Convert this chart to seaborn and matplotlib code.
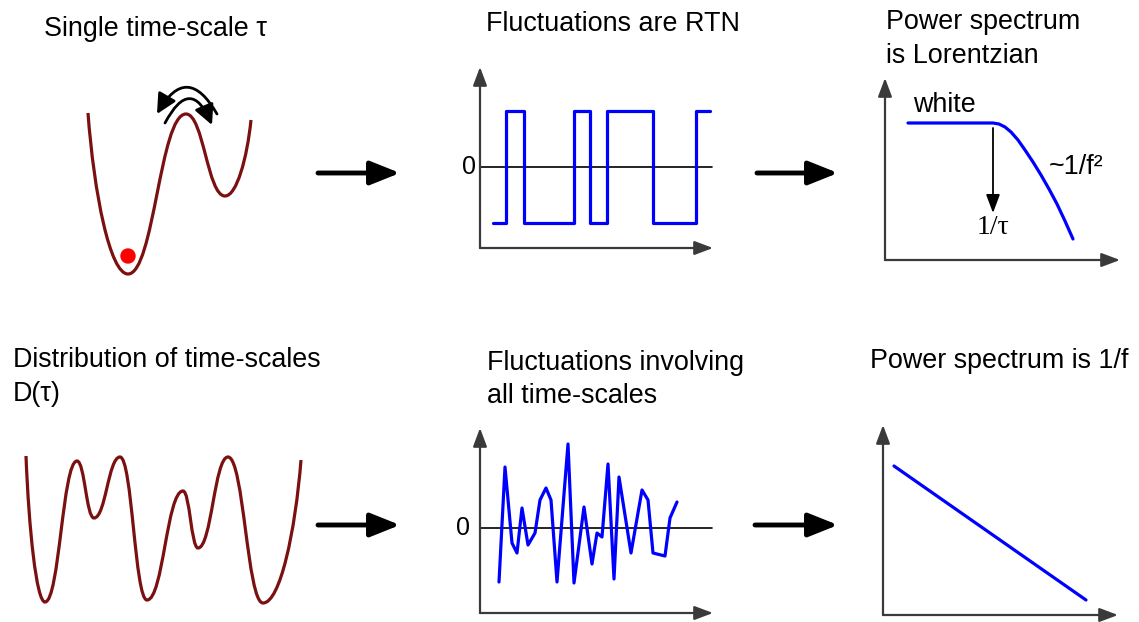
import numpy as np
import matplotlib
matplotlib.use("Agg")
import matplotlib.pyplot as plt
from matplotlib.path import Path
from matplotlib.patches import PathPatch, Circle, FancyArrowPatch
import seaborn as sns

#---------------values (canvas pixels, y grows downward)

# potential landscapes: knots = wall tops and well bottoms
well1_x = [88, 128, 186, 225, 251]
well1_y = [113, 274, 114, 196, 120]
ball_xy = (128, 256)

well2_x = [26, 45, 77, 94, 120, 147, 183, 198, 228, 263, 301]
well2_y = [456, 602, 461, 518, 457, 600, 491, 548, 457, 603, 460]

# random telegraph noise: switching times and level held after each switch
rtn_t = [493, 506, 524, 574, 590, 607, 653, 696, 710]
rtn_v = [223, 111, 223, 111, 223, 111, 223, 111, 111]

# broadband fluctuations
noise_t = [499, 505, 512, 517, 522, 528, 535, 540, 546, 551, 557, 568, 574,
           584, 592, 597, 602, 608, 614, 619, 631, 642, 648, 653, 665, 670, 677]
noise_v = [582, 467, 543, 553, 508, 545, 533, 500, 488, 500, 582, 444, 583,
           507, 564, 533, 537, 464, 579, 477, 553, 490, 500, 553, 556, 518, 502]

# Lorentzian spectrum and 1/f spectrum
lor_f = [908, 993, 999, 1005, 1011, 1018, 1025, 1033, 1041, 1049, 1057, 1065, 1073]
lor_s = [123, 123, 124, 127, 132, 140, 150, 162, 175, 189, 204, 221, 239]
onef_f = [894, 1086]
onef_s = [466, 600]

titles = [
    (44, [36], ["Single time-scale \u03c4"]),
    (486, [31], ["Fluctuations are RTN"]),
    (886, [29, 63], ["Power spectrum", "is Lorentzian"]),
    (13, [367, 401], ["Distribution of time-scales", "D(\u03c4)"]),
    (487, [370, 403], ["Fluctuations involving", "all time-scales"]),
    (870, [368], ["Power spectrum is 1/f"]),
]

#---------------style
sns.set_theme(style="white")
plt.rcParams["font.family"] = ["Liberation Sans", "DejaVu Sans"]
plt.rcParams["text.color"] = "black"
FS = 19.4
MAROON = "#7a1010"
BLUE = "#0000ff"
AXC = "#3a3a3a"

fig = plt.figure(figsize=(11.39, 6.22), dpi=100)
ax = fig.add_axes([0, 0, 1, 1])


def smooth_path(xs, ys):
    # cubic segments with flat tangents at every inner knot
    verts = [(xs[0], ys[0])]
    codes = [Path.MOVETO]
    n = len(xs)
    for i in range(n - 1):
        x0, y0, x1, y1 = xs[i], ys[i], xs[i + 1], ys[i + 1]
        dx, dy = x1 - x0, y1 - y0
        if i == 0:
            c1 = (x0 + 0.15 * dx, y0 + 0.5 * dy)
        else:
            c1 = (x0 + 0.45 * dx, y0)
        if i == n - 2:
            c2 = (x1 - 0.15 * dx, y1 - 0.5 * dy)
        else:
            c2 = (x1 - 0.45 * dx, y1)
        verts += [c1, c2, (x1, y1)]
        codes += [Path.CURVE4] * 3
    return Path(verts, codes)


def axis_arrow(x0, y0, x1, y1):
    ax.annotate("", xy=(x1, y1), xytext=(x0, y0),
                arrowprops=dict(arrowstyle="-|>,head_length=0.8,head_width=0.3",
                                lw=1.6, color=AXC, mutation_scale=14,
                                shrinkA=0, shrinkB=0))


def big_arrow(x0, x1, y):
    ax.annotate("", xy=(x1, y), xytext=(x0, y),
                arrowprops=dict(arrowstyle="-|>,head_length=1.0,head_width=0.4",
                                lw=3.5, color="black", mutation_scale=18,
                                shrinkA=0, shrinkB=0))


#---------------landscapes
ax.add_patch(PathPatch(smooth_path(well1_x, well1_y), fill=False, ec=MAROON, lw=2.3))
ax.add_patch(PathPatch(smooth_path(well2_x, well2_y), fill=False, ec=MAROON, lw=2.3))
ax.add_patch(Circle(ball_xy, 7, color="red", zorder=3))

for a, b, rad in [((217, 114), (157, 114), 0.87), ((165, 123), (212, 125), -1.05)]:
    ax.add_patch(FancyArrowPatch(a, b, connectionstyle=f"arc3,rad={rad}",
                                 arrowstyle="-|>,head_length=0.8,head_width=0.4",
                                 mutation_scale=15, lw=2.0, color="black",
                                 shrinkA=0, shrinkB=0))

#---------------time traces
axis_arrow(480, 248, 480, 67)
axis_arrow(480, 248, 713, 248)
ax.plot([480, 712], [167, 167], color="black", lw=1.2)
sns.lineplot(x=rtn_t, y=rtn_v, ax=ax, sort=False, estimator=None,
             drawstyle="steps-post", color=BLUE, lw=2.3)
ax.text(469, 167, "0", fontsize=18, ha="center", va="center")

axis_arrow(480, 613, 480, 428)
axis_arrow(480, 613, 713, 613)
ax.plot([480, 712], [528, 528], color="black", lw=1.2)
sns.lineplot(x=noise_t, y=noise_v, ax=ax, sort=False, estimator=None,
             color=BLUE, lw=2.3)
ax.text(463, 528, "0", fontsize=18, ha="center", va="center")

#---------------spectra
axis_arrow(885, 260, 885, 78)
axis_arrow(885, 260, 1120, 260)
sns.lineplot(x=lor_f, y=lor_s, ax=ax, sort=False, estimator=None,
             color=BLUE, lw=2.3)
ax.annotate("", xy=(993, 213), xytext=(993, 128),
            arrowprops=dict(arrowstyle="-|>,head_length=0.8,head_width=0.3",
                            lw=1.3, color="black", mutation_scale=14,
                            shrinkA=0, shrinkB=0))
ax.text(913, 112, "white", fontsize=FS, ha="left", va="baseline")
ax.text(1049, 167, "~1/f\u00b2", fontsize=FS, ha="left", va="center")
ax.text(993, 228, "1/\u03c4", fontsize=20, ha="center", va="center",
        family=["Liberation Serif", "DejaVu Serif"])

axis_arrow(883, 615, 883, 425)
axis_arrow(883, 615, 1118, 615)
sns.lineplot(x=onef_f, y=onef_s, ax=ax, sort=False, estimator=None,
             color=BLUE, lw=2.3)

#---------------arrows between stages
big_arrow(318, 400, 173)
big_arrow(757, 838, 173)
big_arrow(318, 400, 525)
big_arrow(755, 838, 525)

#---------------titles
for x, ys, lines in titles:
    for y, line in zip(ys, lines):
        ax.text(x, y, line, fontsize=FS, ha="left", va="baseline")

ax.set_xlim(0, 1139)
ax.set_ylim(622, 0)
ax.axis("off")
fig.savefig("out.png", dpi=100)
